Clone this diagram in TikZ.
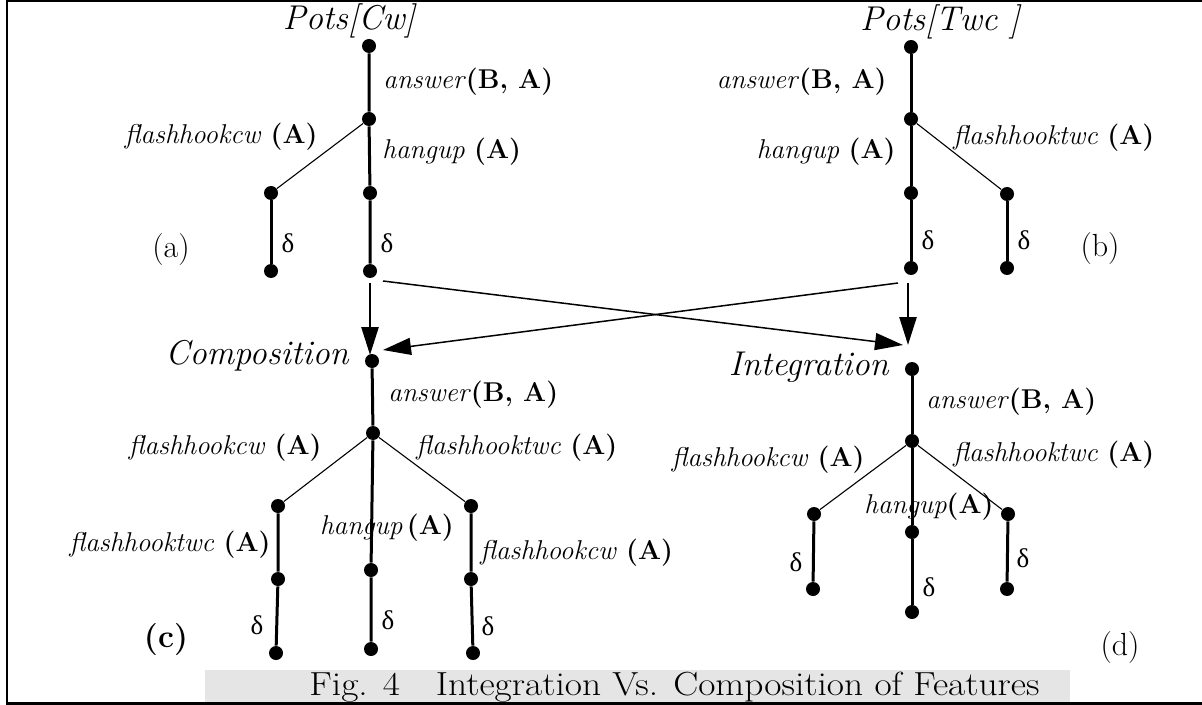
\documentclass[tikz,border=0pt]{standalone}
\usepackage{fontspec}
\newfontfamily\greekfont{Liberation Serif}
\usetikzlibrary{arrows.meta}
\newcommand\argA{\textup{\textbf{(A)}}}
\newcommand\argBA{\textup{\textbf{(B, A)}}}
\begin{document}
\begin{tikzpicture}[x=0.5pt,y=-0.5pt,
  dot/.style={circle,fill=black,inner sep=0pt,minimum size=7pt},
  trunk/.style={line width=1.5pt},
  branch/.style={line width=0.55pt},
  lbl/.style={inner sep=0pt,font=\fontsize{13.6}{16}\selectfont\itshape},
  ttl/.style={inner sep=0pt,font=\fontsize{17.2}{20}\selectfont\itshape},
  dl/.style={inner sep=0pt,font=\fontsize{13.5}{15}\selectfont\greekfont},
  tag/.style={inner sep=0pt,font=\fontsize{16}{18}\selectfont},
  flow/.style={line width=1.3pt,-{Triangle[length=14pt,width=8.5pt]}},
  cross/.style={line width=0.75pt,-{Triangle[length=14pt,width=8.5pt]}},
]
\useasboundingbox (0,0) rectangle (1202,705);

% caption band
\fill[black!10] (205,670) rectangle (1070,703);
\node[inner sep=0pt,anchor=west,font=\fontsize{16.7}{19}\selectfont] (cap) at (309,687)
  {\scalebox{1.12}[1]{Fig. 4\hspace{16pt}Integration Vs. Composition of Features}};

% frame (open on the right)
\draw[line width=1.2pt] (1202,1.2) -- (7,1.2) -- (7,703.5) -- (1202,703.5);

% ---------- (a) Pots[Cw] ----------
\node[dot] (a0) at (369,46) {};
\node[dot] (a1) at (369,119) {};
\node[dot] (a2) at (271,193) {};
\node[dot] (a3) at (370,193) {};
\node[dot] (a4) at (271,271) {};
\node[dot] (a5) at (370,271) {};
\draw[trunk] (a0) -- (a1) -- (a3) -- (a5);
\draw[branch] (a1) -- (a2);
\draw[trunk] (a2) -- (a4);
\node[ttl] (aT) at (349,21) {Pots[Cw]};
\node[lbl,anchor=west] (aL1) at (383,82) {answer\argBA};
\node[lbl,anchor=east] (aL2) at (318,137) {flashhookcw \argA};
\node[lbl,anchor=west] (aL3) at (382,152) {hangup \argA};
\node[dl] (aD1) at (288,243) {δ};
\node[dl] (aD2) at (387,243) {δ};
\node[tag] (aTag) at (171,250) {(a)};

% ---------- (b) Pots[Twc] ----------
\node[dot] (b0) at (911,47) {};
\node[dot] (b1) at (911,119) {};
\node[dot] (b2) at (911,193) {};
\node[dot] (b3) at (1007,194) {};
\node[dot] (b4) at (911,268) {};
\node[dot] (b5) at (1007,268) {};
\draw[trunk] (b0) -- (b1) -- (b2) -- (b4);
\draw[branch] (b1) -- (b3);
\draw[trunk] (b3) -- (b5);
\node[ttl] (bT) at (940,22) {Pots[Twc ]};
\node[lbl,anchor=east] (bL1) at (887,82) {answer\argBA};
\node[lbl,anchor=east] (bL2) at (896,152) {hangup \argA};
\node[lbl,anchor=west] (bL3) at (953,138) {flashhooktwc \argA};
\node[dl] (bD1) at (928,240) {δ};
\node[dl] (bD2) at (1024,240) {δ};
\node[tag] (bTag) at (1100,249) {(b)};

% ---------- (c) Composition ----------
\node[dot] (c0) at (372,361) {};
\node[dot] (c1) at (373,433) {};
\node[dot] (c2) at (278,506) {};
\node[dot] (c3) at (371,570) {};
\node[dot] (c4) at (471,506) {};
\node[dot] (c5) at (278,579) {};
\node[dot] (c6) at (471,579) {};
\node[dot] (c7) at (276,653) {};
\node[dot] (c8) at (371,649) {};
\node[dot] (c9) at (473,653) {};
\draw[trunk] (c0) -- (c1) -- (c3) -- (c8);
\draw[branch] (c1) -- (c2);
\draw[branch] (c1) -- (c4);
\draw[trunk] (c2) -- (c5) -- (c7);
\draw[trunk] (c4) -- (c6) -- (c9);
\node[ttl,anchor=east] (cT) at (349,356) {Composition};
\node[lbl,anchor=west] (cL1) at (388,395) {answer\argBA};
\node[lbl,anchor=east] (cL2) at (322,448) {flashhookcw \argA};
\node[lbl,anchor=west] (cL3) at (416,448) {flashhooktwc \argA};
\node[lbl] (cL4) at (387,528) {hangup\,\argA};
\node[lbl,anchor=east] (cL5) at (271,545) {flashhooktwc \argA};
\node[lbl,anchor=west] (cL6) at (480,553) {flashhookcw \argA};
\node[dl] (cD1) at (257,625) {δ};
\node[dl] (cD2) at (388,620) {δ};
\node[dl] (cD3) at (488,626) {δ};
\node[tag,font=\fontsize{16}{18}\selectfont\bfseries] (cTag) at (166,640) {(c)};

% ---------- (d) Integration ----------
\node[dot] (d0) at (912,369) {};
\node[dot] (d1) at (912,441) {};
\node[dot] (d2) at (814,514) {};
\node[dot] (d3) at (912,532) {};
\node[dot] (d4) at (1008,514) {};
\node[dot] (d5) at (813,589) {};
\node[dot] (d6) at (912,612) {};
\node[dot] (d7) at (1007,589) {};
\draw[trunk] (d0) -- (d1) -- (d3) -- (d6);
\draw[branch] (d1) -- (d2);
\draw[branch] (d1) -- (d4);
\draw[trunk] (d2) -- (d5);
\draw[trunk] (d4) -- (d7);
\node[ttl,anchor=east] (dT) at (889,367) {Integration};
\node[lbl,anchor=west] (dL1) at (926,402) {answer\argBA};
\node[lbl,anchor=east] (dL2) at (865,460) {flashhookcw \argA};
\node[lbl,anchor=west] (dL3) at (953,455) {flashhooktwc \argA};
\node[lbl] (dL4) at (929,507) {hangup\argA};
\node[dl] (dD1) at (796,562) {δ};
\node[dl] (dD2) at (929,587) {δ};
\node[dl] (dD3) at (1023,558) {δ};
\node[tag] (dTag) at (1120,648) {(d)};

% ---------- derivation arrows ----------
\coordinate (aOutV) at (370,283);
\coordinate (aOutX) at (383,281);
\coordinate (bOutV) at (908,283);
\coordinate (bOutX) at (898,283);
\coordinate (cIn)   at (370,355);
\coordinate (cInX)  at (383,350);
\coordinate (dIn)   at (908,345);
\coordinate (dInX)  at (903,345);
\draw[flow] (aOutV) -- (cIn);
\draw[flow] (bOutV) -- (dIn);
\draw[cross] (aOutX) -- (dInX);
\draw[cross] (bOutX) -- (cInX);
\end{tikzpicture}
\end{document}
